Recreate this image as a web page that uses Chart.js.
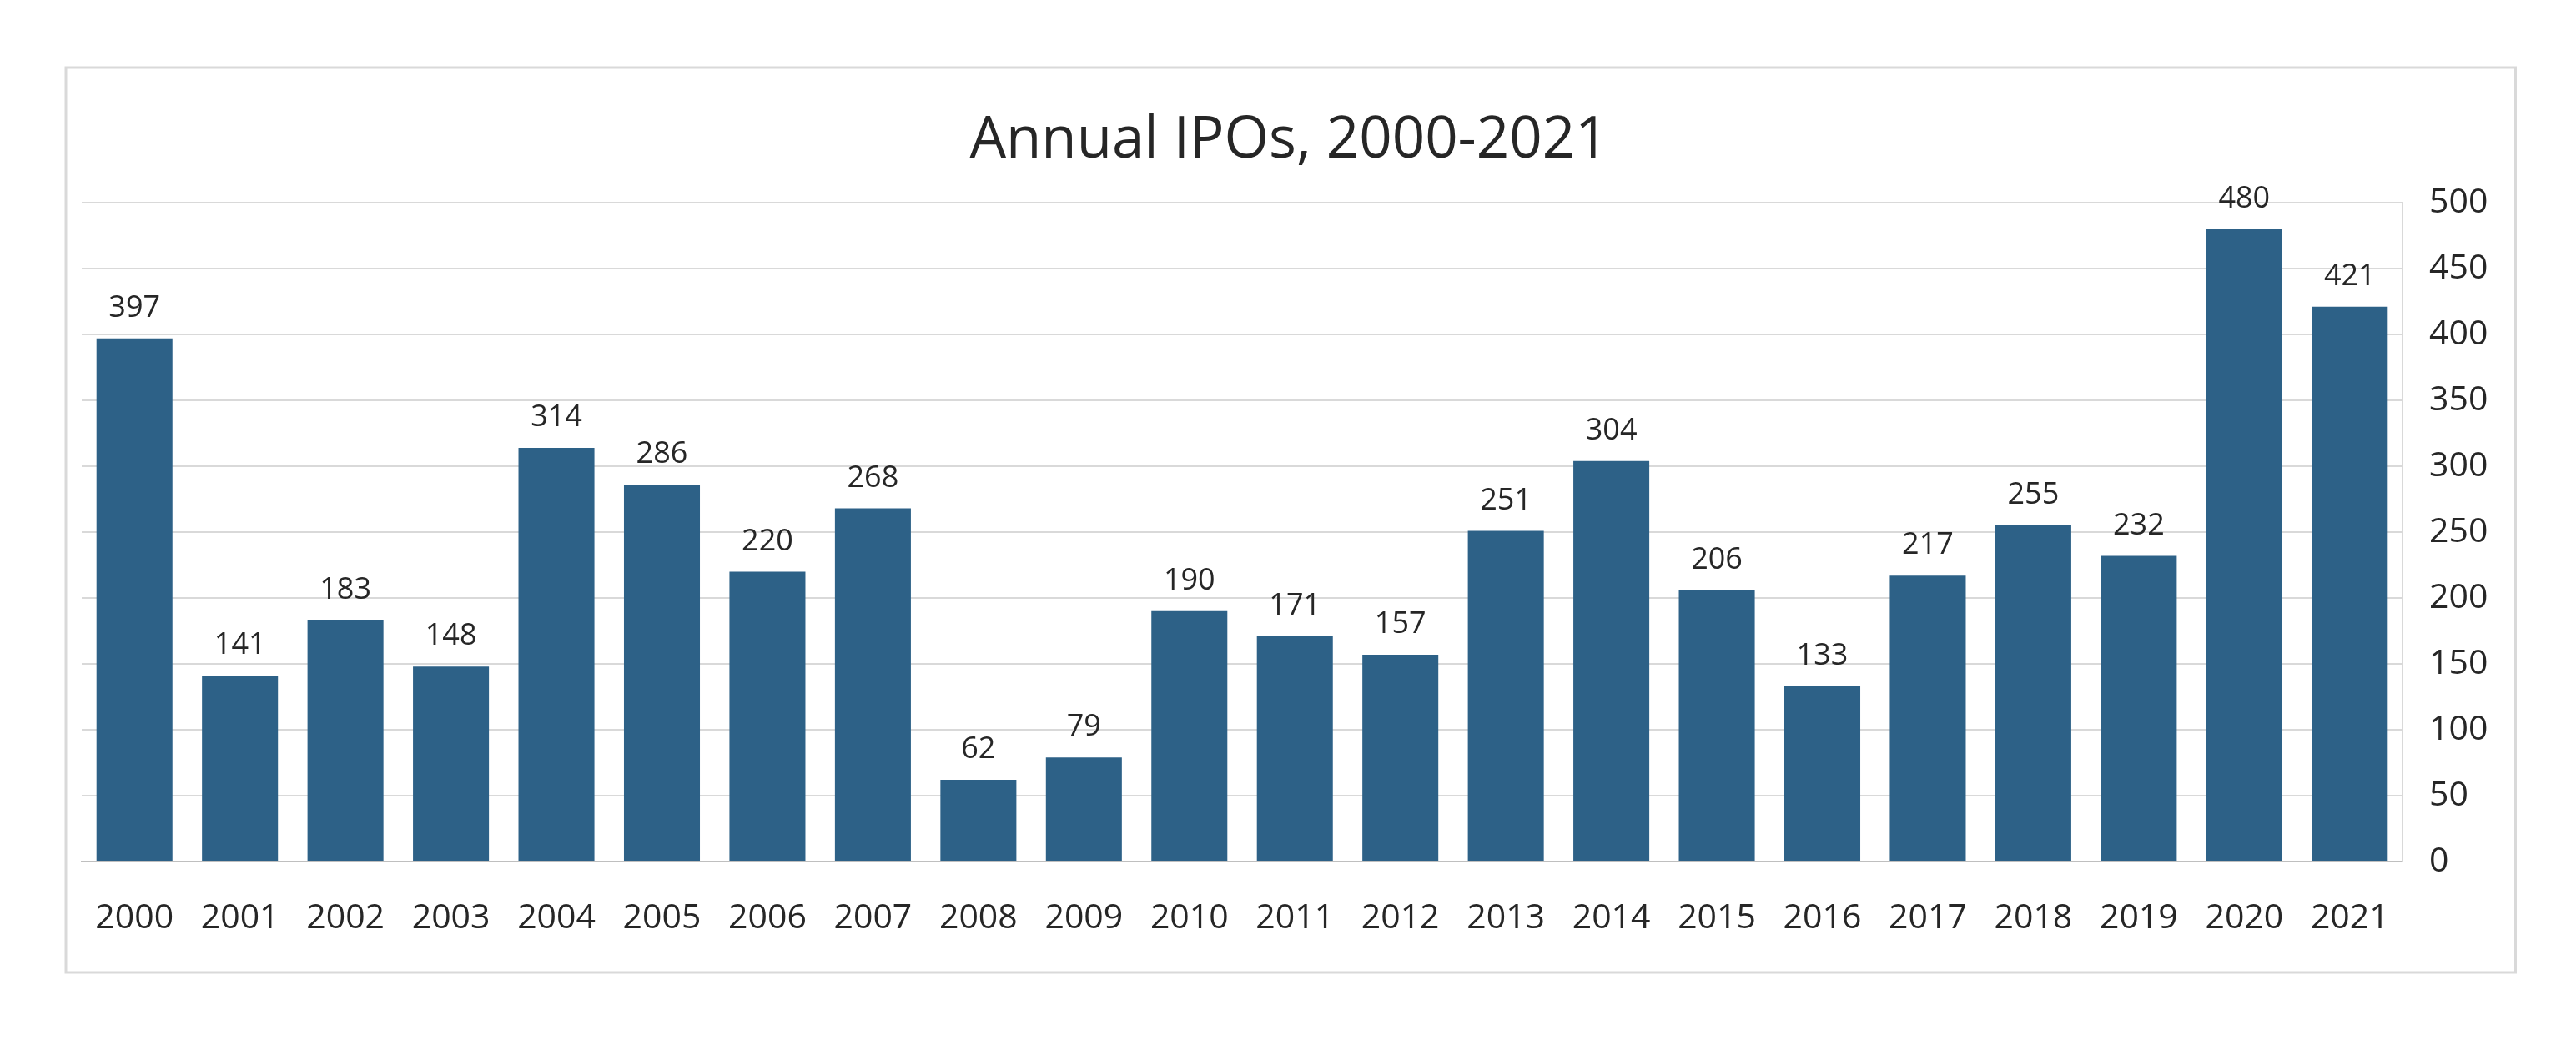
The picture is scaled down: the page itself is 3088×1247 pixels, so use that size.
<!DOCTYPE html>
<html>
<head>
<meta charset="utf-8">
<script src="https://cdn.jsdelivr.net/npm/chart.js@4.4.1/dist/chart.umd.min.js"></script>
<style>
  html, body { margin: 0; padding: 0; background: #ffffff; }
  #wrap { position: relative; width: 3088px; height: 1247px; }
</style>
</head>
<body>
<div id="wrap"><canvas id="c" width="3088" height="1247"></canvas></div>
<script>
const chartTitle = "Annual IPOs, 2000-2021";
const categories = ["2000","2001","2002","2003","2004","2005","2006","2007","2008","2009","2010","2011","2012","2013","2014","2015","2016","2017","2018","2019","2020","2021"];
const ipoCounts = [397,141,183,148,314,286,220,268,62,79,190,171,157,251,304,206,133,217,255,232,480,421];
const yTicks = [0,50,100,150,200,250,300,350,400,450,500];

const FONT = "'Open Sans', 'Noto Sans', sans-serif";
const TEXT = "#262626";

const frame = {
  id: 'frame',
  beforeDraw(chart) {
    const ctx = chart.ctx;
    ctx.save();
    ctx.fillStyle = '#ffffff';
    ctx.fillRect(0, 0, chart.width, chart.height);
    ctx.strokeStyle = '#d9d9d9';
    ctx.lineWidth = 3;
    ctx.strokeRect(79, 81, 2936.5, 1085);
    ctx.font = "69px " + FONT;
    ctx.fillStyle = TEXT;
    ctx.textAlign = 'center';
    ctx.textBaseline = 'middle';
    ctx.fillText(chartTitle, 1545, 169);
    ctx.restore();
  }
};

const valueLabels = {
  id: 'valueLabels',
  afterDatasetsDraw(chart) {
    const ctx = chart.ctx;
    const meta = chart.getDatasetMeta(0);
    const data = chart.data.datasets[0].data;
    ctx.save();
    ctx.font = "36px " + FONT;
    ctx.fillStyle = TEXT;
    ctx.textAlign = 'center';
    ctx.textBaseline = 'middle';
    meta.data.forEach((bar, i) => {
      ctx.fillText(String(data[i]), bar.x, bar.y - 36);
    });
    ctx.restore();
  }
};

new Chart(document.getElementById('c'), {
  type: 'bar',
  data: {
    labels: categories,
    datasets: [{
      data: ipoCounts,
      backgroundColor: '#2d6187',
      borderWidth: 0,
      categoryPercentage: 1.0,
      barPercentage: 0.72
    }]
  },
  options: {
    responsive: false,
    animation: false,
    devicePixelRatio: 1,
    layout: { padding: { left: 98, right: 0, top: 243, bottom: 0 } },
    plugins: {
      legend: { display: false },
      tooltip: { enabled: false },
      title: { display: false }
    },
    scales: {
      x: {
        grid: { display: false, drawTicks: false },
        border: { display: true, color: '#bfbfbf', width: 2 },
        ticks: {
          color: TEXT,
          font: { family: FONT, size: 41 },
          padding: 44,
          maxRotation: 0,
          autoSkip: false
        },
        afterFit(scale) { scale.height = 214; }
      },
      y: {
        position: 'right',
        min: 0,
        max: 500,
        afterBuildTicks(scale) { scale.ticks = yTicks.map(v => ({ value: v })); },
        grid: { color: '#d9d9d9', lineWidth: 2, drawTicks: false },
        border: { display: true, color: '#d9d9d9', width: 2 },
        ticks: {
          color: TEXT,
          font: { family: FONT, size: 41 },
          padding: 32
        },
        afterFit(scale) { scale.width = 208; }
      }
    }
  },
  plugins: [frame, valueLabels]
});
</script>
</body>
</html>
